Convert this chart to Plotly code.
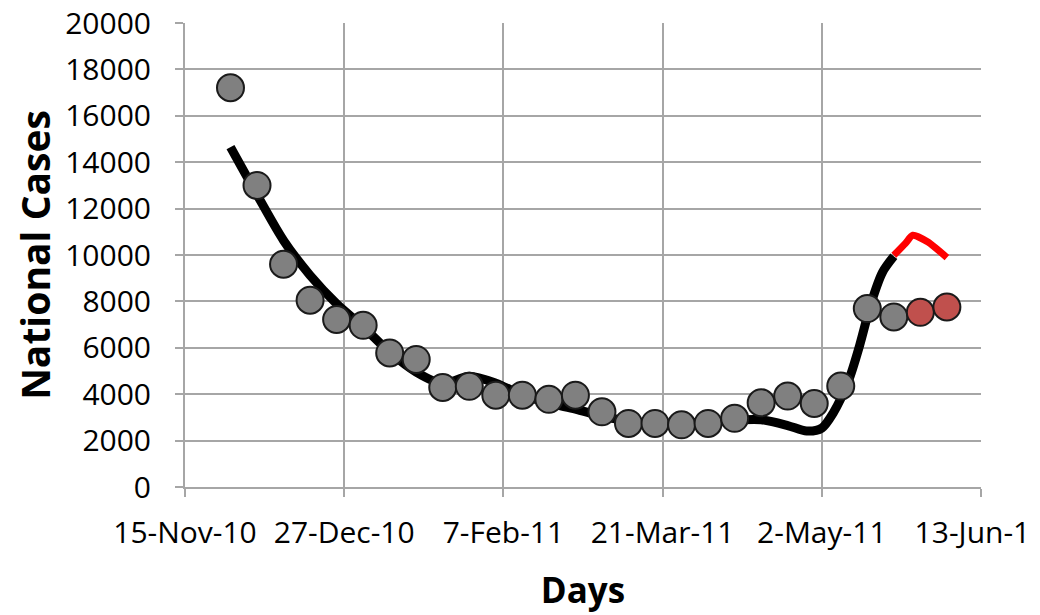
import plotly.graph_objects as go

# Observed weekly national cases
obs_dates = ["2010-11-27", "2010-12-04", "2010-12-11", "2010-12-18", "2010-12-25",
             "2011-01-01", "2011-01-08", "2011-01-15", "2011-01-22", "2011-01-29",
             "2011-02-05", "2011-02-12", "2011-02-19", "2011-02-26", "2011-03-05",
             "2011-03-12", "2011-03-19", "2011-03-26", "2011-04-02", "2011-04-09",
             "2011-04-16", "2011-04-23", "2011-04-30", "2011-05-07", "2011-05-14",
             "2011-05-21"]
obs_cases = [17210, 13000, 9600, 8050, 7220, 6970, 5780, 5500, 4290, 4340,
             3960, 3960, 3780, 3960, 3240, 2740, 2740, 2680, 2740, 2960,
             3630, 3920, 3600, 4350, 7690, 7330]

# Most recent (provisional) observations
new_dates = ["2011-05-28", "2011-06-04"]
new_cases = [7530, 7760]

# Model fit curve
fit_dates = ["2010-11-27", "2010-12-04", "2010-12-11", "2010-12-18", "2010-12-25",
             "2011-01-01", "2011-01-08", "2011-01-15", "2011-01-22", "2011-01-29",
             "2011-02-05", "2011-02-12", "2011-02-19", "2011-02-26", "2011-03-05",
             "2011-03-12", "2011-03-19", "2011-03-26", "2011-04-02", "2011-04-09",
             "2011-04-16", "2011-04-23", "2011-04-28", "2011-05-02", "2011-05-05",
             "2011-05-09", "2011-05-12", "2011-05-15", "2011-05-18", "2011-05-21"]
fit_cases = [14650, 12600, 10630, 9126, 7900, 6900, 5811, 4950, 4450, 4778,
             4477, 3960, 3616, 3358, 3056, 2841, 2755, 2755, 2798, 2884,
             2900, 2650, 2411, 2540, 3186, 4560, 6113, 7921, 9255, 9944]

# Forecast curve
fc_dates = ["2011-05-21", "2011-05-24", "2011-05-26", "2011-05-30", "2011-06-04"]
fc_cases = [9987, 10490, 10850, 10560, 9890]

x_tickvals = ["2010-11-15", "2010-12-27", "2011-02-07", "2011-03-21", "2011-05-02", "2011-06-13"]
x_ticktext = ["15-Nov-10", "27-Dec-10", "7-Feb-11", "21-Mar-11", "2-May-11", "13-Jun-11"]

fig = go.Figure()
fig.add_trace(go.Scatter(x=fit_dates, y=fit_cases, mode="lines",
                         line=dict(color="black", width=9, shape="spline", smoothing=0.8),
                         showlegend=False, hoverinfo="skip"))
fig.add_trace(go.Scatter(x=fc_dates, y=fc_cases, mode="lines",
                         line=dict(color="#ff0000", width=7, shape="spline", smoothing=0.6),
                         showlegend=False))
fig.add_trace(go.Scatter(x=obs_dates, y=obs_cases, mode="markers",
                         marker=dict(size=27, color="#808080",
                                     line=dict(color="#1a1a1a", width=2)),
                         showlegend=False))
fig.add_trace(go.Scatter(x=new_dates, y=new_cases, mode="markers",
                         marker=dict(size=27, color="#c0504d",
                                     line=dict(color="#1a1a1a", width=2)),
                         showlegend=False))

grid = "#a6a6a6"
fig.update_layout(
    width=1032, height=607,
    margin=dict(l=177, r=59, t=15, b=128),
    paper_bgcolor="white", plot_bgcolor="white",
    font=dict(family="Open Sans", color="black"),
    xaxis=dict(type="date", range=["2010-11-15", "2011-06-13"],
               tickvals=x_tickvals, ticktext=x_ticktext,
               tickfont=dict(size=30, family="Open Sans"),
               showgrid=True, gridcolor=grid, gridwidth=1.5,
               showline=True, linecolor=grid, linewidth=2,
               ticks="outside", ticklen=8, tickcolor=grid, tickwidth=2,
               ticklabelstandoff=10, ticklabeloverflow="allow",
               zeroline=False, automargin=False,
               title=dict(text="<b>Days</b>", font=dict(size=35, family="Open Sans"), standoff=27)),
    yaxis=dict(range=[0, 20000], tickvals=list(range(0, 20001, 2000)), tickformat="d",
               tickfont=dict(size=30, family="Open Sans"),
               showgrid=True, gridcolor=grid, gridwidth=1.5,
               showline=True, linecolor=grid, linewidth=2,
               ticks="outside", ticklen=8, tickcolor=grid, tickwidth=2,
               ticklabelstandoff=18, ticklabeloverflow="allow",
               zeroline=False, automargin=False,
               title=dict(text="<b>National Cases</b>", font=dict(size=39, family="Open Sans"), standoff=11)),
)
fig.write_html("out.html")
